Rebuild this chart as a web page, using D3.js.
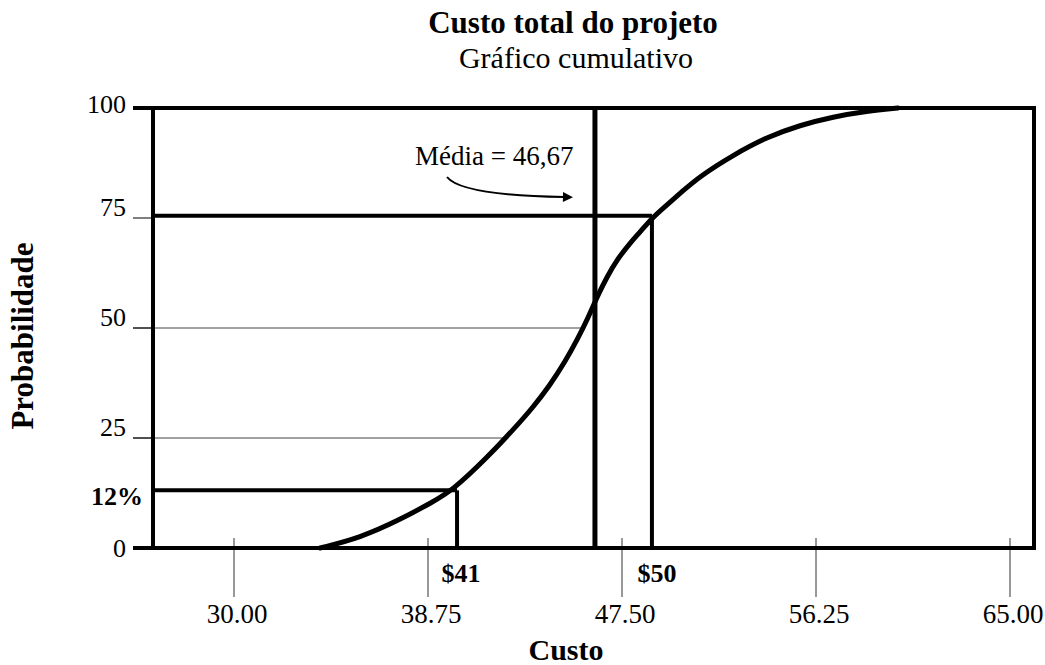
<!DOCTYPE html>
<html>
<head>
<meta charset="utf-8">
<script src="https://cdn.jsdelivr.net/npm/d3@7"></script>
<style>
  body { margin: 0; background: #fff; }
  text { font-family: "Liberation Serif", "Times New Roman", serif; fill: #000; }
</style>
</head>
<body>
<div id="chart"></div>
<script>
// valeurs
var custo = [33.88, 35.68, 37.48, 38.97, 39.83, 41.41, 42.67, 43.49, 44.25, 44.93, 45.52, 45.97, 46.37,
             46.82, 47.27, 47.86, 48.31, 48.85, 49.53, 50.21, 51.02, 52.51, 54.04, 55.53, 57.02, 58.55, 59.95];
var probabilidade = [0, 2.3, 6.4, 10.5, 13.0, 20.5, 27.3, 32.0, 37.0, 42.3, 47.7, 52.3, 57.0,
                     61.6, 65.5, 69.3, 71.8, 75.0, 78.0, 81.0, 84.5, 89.3, 93.4, 96.1, 98.0, 99.3, 100];
var xTicks = [30, 38.75, 47.5, 56.25, 65];
var xTickLabels = ["30.00", "38.75", "47.50", "56.25", "65.00"];
var yTicks = [0, 25, 50, 75, 100];
var gridValues = [25, 50];          // lignes fines qui s'arrêtent sur la courbe
var media = 46.28, mediaLabel = "Média = 46,67";
var p12 = {x: 40.06, y: 13.1, label: "$41", yLabel: "12%"};
var p75 = {x: 48.85, y: 75.5, label: "$50"};

// dimensions
var W = 1045, H = 665;
var frame = {left: 153, right: 1034, top: 108, bottom: 548, tickStart: 133};

var svg = d3.select("#chart").append("svg")
    .attr("width", W)
    .attr("height", H);

var x = d3.scaleLinear().domain([30, 65]).range([234, 1010]);
var y = d3.scaleLinear().domain([0, 100]).range([frame.bottom, frame.top]);

var data = custo.map(function(c, i) { return {x: c, y: probabilidade[i]}; });

// x où la courbe atteint une probabilité donnée
function xAt(p) {
    for (var i = 1; i < data.length; i++) {
        if (data[i].y >= p) {
            var a = data[i - 1], b = data[i];
            return a.x + (p - a.y) / (b.y - a.y) * (b.x - a.x);
        }
    }
    return data[data.length - 1].x;
}

// titres
svg.append("text")
    .attr("x", 573).attr("y", 33)
    .attr("text-anchor", "middle")
    .style("font-size", "31px").style("font-weight", "bold")
    .text("Custo total do projeto");
svg.append("text")
    .attr("x", 576).attr("y", 68)
    .attr("text-anchor", "middle")
    .style("font-size", "30px")
    .text("Gráfico cumulativo");

// lignes fines horizontales (25, 50)
svg.selectAll(".grid")
    .data(gridValues)
    .enter().append("line")
    .attr("class", "grid")
    .attr("x1", frame.tickStart)
    .attr("x2", function(d) { return x(xAt(d)); })
    .attr("y1", function(d) { return y(d); })
    .attr("y2", function(d) { return y(d); })
    .attr("stroke", "#444").attr("stroke-width", 1);

// petits traits de l'axe y
svg.selectAll(".ytick")
    .data(yTicks)
    .enter().append("line")
    .attr("class", "ytick")
    .attr("x1", frame.tickStart).attr("x2", frame.left)
    .attr("y1", function(d) { return y(d); })
    .attr("y2", function(d) { return y(d); })
    .attr("stroke", "#000")
    .attr("stroke-width", function(d) { return (d === 0 || d === 100) ? 4 : 1; });

svg.selectAll(".ylabel")
    .data(yTicks)
    .enter().append("text")
    .attr("class", "ylabel")
    .attr("x", 126)
    .attr("y", function(d) { return y(d); })
    .attr("dy", function(d) { return d === 0 ? 9 : (d === 100 ? 5 : -2); })
    .attr("text-anchor", "end")
    .style("font-size", "26px")
    .text(function(d) { return d; });

// axe x : traits qui traversent la ligne de base
svg.selectAll(".xtick")
    .data(xTicks)
    .enter().append("line")
    .attr("class", "xtick")
    .attr("x1", function(d) { return x(d); })
    .attr("x2", function(d) { return x(d); })
    .attr("y1", frame.bottom - 10).attr("y2", frame.bottom + 49)
    .attr("stroke", "#333").attr("stroke-width", 1);

svg.selectAll(".xlabel")
    .data(xTicks)
    .enter().append("text")
    .attr("class", "xlabel")
    .attr("x", function(d) { return x(d) + 3; })
    .attr("y", 623)
    .attr("text-anchor", "middle")
    .style("font-size", "27px")
    .text(function(d, i) { return xTickLabels[i]; });

// lignes épaisses : 12 %, 75 %, moyenne
svg.append("line")
    .attr("x1", frame.left).attr("x2", x(p12.x))
    .attr("y1", y(p12.y)).attr("y2", y(p12.y))
    .attr("stroke", "#000").attr("stroke-width", 4);
svg.append("line")
    .attr("x1", x(p12.x)).attr("x2", x(p12.x))
    .attr("y1", y(p12.y)).attr("y2", y(0))
    .attr("stroke", "#000").attr("stroke-width", 4);

svg.append("line")
    .attr("x1", frame.left).attr("x2", x(p75.x))
    .attr("y1", y(p75.y)).attr("y2", y(p75.y))
    .attr("stroke", "#000").attr("stroke-width", 4);
svg.append("line")
    .attr("x1", x(p75.x)).attr("x2", x(p75.x))
    .attr("y1", y(p75.y)).attr("y2", y(0))
    .attr("stroke", "#000").attr("stroke-width", 4);

svg.append("line")
    .attr("x1", x(media)).attr("x2", x(media))
    .attr("y1", y(100)).attr("y2", y(0))
    .attr("stroke", "#000").attr("stroke-width", 5);

// courbe cumulative
var line = d3.line()
    .x(function(d) { return x(d.x); })
    .y(function(d) { return y(d.y); })
    .curve(d3.curveBasis);

svg.append("path")
    .datum(data)
    .attr("d", line)
    .attr("fill", "none")
    .attr("stroke", "#000")
    .attr("stroke-width", 5)
    .attr("stroke-linecap", "round");

// cadre
svg.append("path")
    .attr("d", "M" + frame.tickStart + "," + frame.top + "H" + frame.right + "V" + frame.bottom +
               "H" + frame.tickStart + "M" + frame.left + "," + frame.top + "V" + frame.bottom)
    .attr("fill", "none")
    .attr("stroke", "#000")
    .attr("stroke-width", 4);

// annotations
svg.append("text")
    .attr("x", x(p12.x) + 4).attr("y", 582)
    .attr("text-anchor", "middle")
    .style("font-size", "26px").style("font-weight", "bold")
    .text(p12.label);
svg.append("text")
    .attr("x", x(p75.x) + 5).attr("y", 582)
    .attr("text-anchor", "middle")
    .style("font-size", "26px").style("font-weight", "bold")
    .text(p75.label);
svg.append("text")
    .attr("x", 143).attr("y", 505)
    .attr("text-anchor", "end")
    .style("font-size", "26px").style("font-weight", "bold")
    .text(p12.yLabel);

// flèche de la moyenne
svg.append("defs").append("marker")
    .attr("id", "fleche")
    .attr("viewBox", "0 0 10 10")
    .attr("refX", 1).attr("refY", 5)
    .attr("markerWidth", 5.5).attr("markerHeight", 5)
    .attr("markerUnits", "strokeWidth")
    .attr("orient", "auto")
    .append("path")
    .attr("d", "M0,0L10,5L0,10Z")
    .attr("fill", "#000");

var tip = x(media) - 31;
svg.append("path")
    .attr("d", "M447,177C458,191 505,196 " + tip + ",197")
    .attr("fill", "none")
    .attr("stroke", "#000")
    .attr("stroke-width", 2)
    .attr("marker-end", "url(#fleche)");

svg.append("text")
    .attr("x", 415).attr("y", 165)
    .style("font-size", "27px")
    .text(mediaLabel);

// titres des axes
svg.append("text")
    .attr("x", 566).attr("y", 660)
    .attr("text-anchor", "middle")
    .style("font-size", "30px").style("font-weight", "bold")
    .text("Custo");
svg.append("text")
    .attr("transform", "translate(33,336) rotate(-90)")
    .attr("text-anchor", "middle")
    .style("font-size", "31px").style("font-weight", "bold")
    .text("Probabilidade");
</script>
</body>
</html>
